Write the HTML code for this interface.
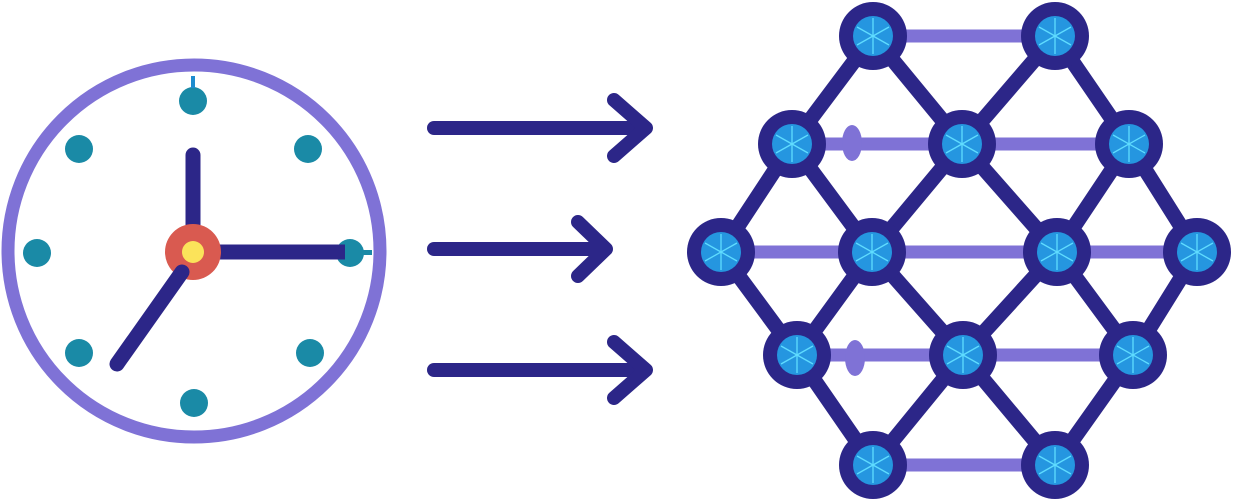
<!DOCTYPE html>
<html><head><meta charset="utf-8"><style>html,body{margin:0;padding:0;background:#fff;width:1233px;height:500px;overflow:hidden}</style></head>
<body>
<svg width="1233" height="500" viewBox="0 0 1233 500" xmlns="http://www.w3.org/2000/svg">
<defs>
<g id="sp" stroke="#5fdcff" stroke-width="1.3" fill="none">
<line x1="0" y1="-18" x2="0" y2="18"/><line x1="-16" y1="-9" x2="16" y2="9"/><line x1="-16" y1="9" x2="16" y2="-9"/>
</g>
</defs>
<!-- clock -->
<circle cx="194" cy="251" r="186" fill="none" stroke="#7f72d6" stroke-width="13"/>
<g fill="#1a8aa6">
<circle cx="193" cy="101" r="14"/><circle cx="79" cy="149" r="14"/><circle cx="308" cy="149" r="14"/>
<circle cx="37" cy="253" r="14"/><circle cx="350" cy="253" r="14"/><circle cx="79" cy="353" r="14"/>
<circle cx="310" cy="353" r="14"/><circle cx="194" cy="403" r="14"/>
<rect x="191" y="76" width="4" height="12" fill="#1e8ccf"/>
<rect x="360" y="250" width="12" height="5"/>
</g>
<g stroke="#2c2688" stroke-width="15" stroke-linecap="round">
<line x1="193" y1="155" x2="193" y2="240"/>
<line x1="205" y1="252" x2="345" y2="252" stroke-linecap="butt"/>
</g>
<circle cx="193" cy="252" r="28" fill="#d95a50"/>
<circle cx="193" cy="252" r="11" fill="#fbe35a"/>
<line x1="182" y1="272" x2="117" y2="364" stroke="#2c2688" stroke-width="15" stroke-linecap="round"/>
<!-- arrows -->
<g stroke="#2c2688" stroke-width="14" stroke-linecap="round" stroke-linejoin="round" fill="none">
<line x1="434" y1="128" x2="645" y2="128"/><polyline points="614,100 646,128 614,156"/>
<line x1="434" y1="249" x2="605" y2="249"/><polyline points="578,222 606,249 578,276"/>
<line x1="434" y1="370" x2="645" y2="370"/><polyline points="614,342 646,370 614,398"/>
</g>
<!-- network lavender -->
<g stroke="#7f72d6" stroke-width="13">
<line x1="873" y1="36" x2="1055" y2="36"/>
<line x1="792" y1="144" x2="1129" y2="144"/>
<line x1="721" y1="252" x2="1197" y2="252"/>
<line x1="797" y1="355" x2="1133" y2="355"/>
<line x1="873" y1="465" x2="1055" y2="465"/>
</g>
<ellipse cx="852" cy="143" rx="10" ry="18" fill="#7f72d6"/>
<ellipse cx="855" cy="358" rx="10" ry="18" fill="#7f72d6"/>
<g stroke="#2c2688" stroke-width="15" stroke-linecap="round">
<line x1="873" y1="36" x2="792" y2="144"/><line x1="873" y1="36" x2="962" y2="144"/>
<line x1="1055" y1="36" x2="962" y2="144"/><line x1="1055" y1="36" x2="1129" y2="144"/>
<line x1="792" y1="144" x2="721" y2="252"/><line x1="792" y1="144" x2="872" y2="252"/>
<line x1="962" y1="144" x2="872" y2="252"/><line x1="962" y1="144" x2="1057" y2="252"/>
<line x1="1129" y1="144" x2="1057" y2="252"/><line x1="1129" y1="144" x2="1197" y2="252"/>
<line x1="721" y1="252" x2="797" y2="355"/><line x1="872" y1="252" x2="797" y2="355"/>
<line x1="872" y1="252" x2="963" y2="355"/><line x1="1057" y1="252" x2="963" y2="355"/>
<line x1="1057" y1="252" x2="1133" y2="355"/><line x1="1197" y1="252" x2="1133" y2="355"/>
<line x1="797" y1="355" x2="873" y2="465"/><line x1="963" y1="355" x2="873" y2="465"/>
<line x1="963" y1="355" x2="1055" y2="465"/><line x1="1133" y1="355" x2="1055" y2="465"/>
</g>
<g fill="#2c2688">
<circle cx="873" cy="36" r="34"/><circle cx="1055" cy="36" r="34"/>
<circle cx="792" cy="144" r="34"/><circle cx="962" cy="144" r="34"/><circle cx="1129" cy="144" r="34"/>
<circle cx="721" cy="252" r="34"/><circle cx="872" cy="252" r="34"/><circle cx="1057" cy="252" r="34"/><circle cx="1197" cy="252" r="34"/>
<circle cx="797" cy="355" r="34"/><circle cx="963" cy="355" r="34"/><circle cx="1133" cy="355" r="34"/>
<circle cx="873" cy="465" r="34"/><circle cx="1055" cy="465" r="34"/>
</g>
<g fill="#2596e0">
<circle cx="873" cy="36" r="20"/><circle cx="1055" cy="36" r="20"/>
<circle cx="792" cy="144" r="20"/><circle cx="962" cy="144" r="20"/><circle cx="1129" cy="144" r="20"/>
<circle cx="721" cy="252" r="20"/><circle cx="872" cy="252" r="20"/><circle cx="1057" cy="252" r="20"/><circle cx="1197" cy="252" r="20"/>
<circle cx="797" cy="355" r="20"/><circle cx="963" cy="355" r="20"/><circle cx="1133" cy="355" r="20"/>
<circle cx="873" cy="465" r="20"/><circle cx="1055" cy="465" r="20"/>
</g>
<use href="#sp" x="873" y="36"/><use href="#sp" x="1055" y="36"/>
<use href="#sp" x="792" y="144"/><use href="#sp" x="962" y="144"/><use href="#sp" x="1129" y="144"/>
<use href="#sp" x="721" y="252"/><use href="#sp" x="872" y="252"/><use href="#sp" x="1057" y="252"/><use href="#sp" x="1197" y="252"/>
<use href="#sp" x="797" y="355"/><use href="#sp" x="963" y="355"/><use href="#sp" x="1133" y="355"/>
<use href="#sp" x="873" y="465"/><use href="#sp" x="1055" y="465"/>
</svg>
</body></html>
